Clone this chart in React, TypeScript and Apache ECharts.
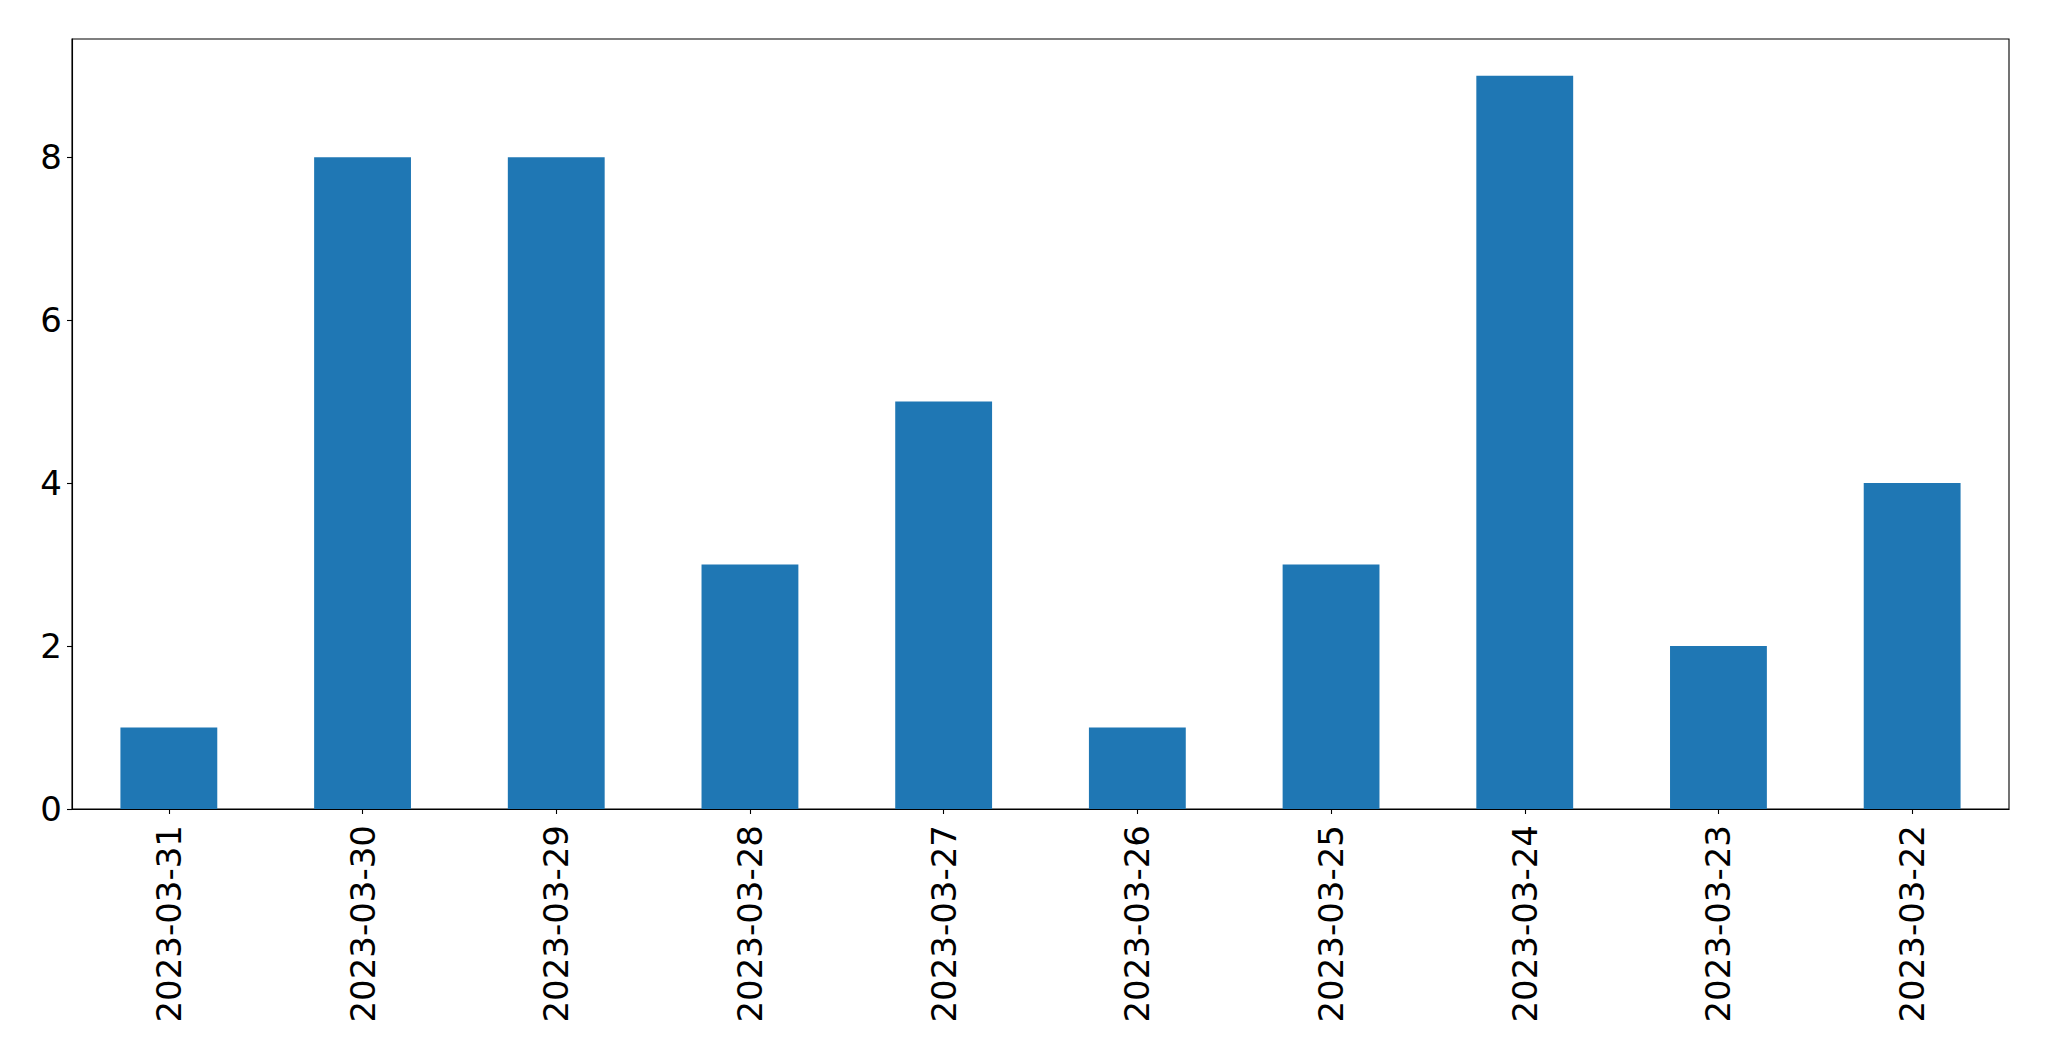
import React, { useEffect, useRef } from "react";
import * as echarts from "echarts";

const categories = [
  "2023-03-31",
  "2023-03-30",
  "2023-03-29",
  "2023-03-28",
  "2023-03-27",
  "2023-03-26",
  "2023-03-25",
  "2023-03-24",
  "2023-03-23",
  "2023-03-22",
];
const values = [1, 8, 8, 3, 5, 1, 3, 9, 2, 4];
const yTicks = [0, 2, 4, 6, 8];

export default function App() {
  const ref = useRef<HTMLDivElement>(null);
  useEffect(() => {
    if (!ref.current) return;
    const chart = echarts.init(ref.current, null, { renderer: "svg" });
    const font = "DejaVu Sans";
    chart.setOption({
      animation: false,
      backgroundColor: "#ffffff",
      grid: {
        left: 72,
        top: 39,
        width: 1937,
        height: 770,
        show: true,
        borderColor: "#000000",
        borderWidth: 1.1,
        backgroundColor: "transparent",
      },
      xAxis: {
        type: "category",
        data: categories,
        boundaryGap: true,
        axisLine: { show: true, lineStyle: { color: "#000000", width: 1.1 } },
        axisTick: {
          show: true,
          alignWithLabel: true,
          length: 5,
          lineStyle: { color: "#000000", width: 1.1 },
        },
        axisLabel: {
          rotate: 90,
          margin: 16,
          color: "#000000",
          fontFamily: font,
          fontSize: 34,
          interval: 0,
        },
        splitLine: { show: false },
      },
      yAxis: {
        type: "value",
        min: 0,
        max: 9.45,
        interval: 2,
        axisLine: { show: true, lineStyle: { color: "#000000", width: 1.1 } },
        axisTick: {
          show: true,
          length: 5,
          customValues: yTicks,
          lineStyle: { color: "#000000", width: 1.1 },
        },
        axisLabel: {
          margin: 10,
          color: "#000000",
          fontFamily: font,
          fontSize: 34,
          customValues: yTicks,
        },
        splitLine: { show: false },
      },
      series: [
        {
          type: "bar",
          data: values,
          barWidth: "50%",
          itemStyle: { color: "#1f77b4" },
        },
      ],
    });
    return () => chart.dispose();
  }, []);
  return (
    <div
      ref={ref}
      style={{ position: "fixed", left: 0, top: 0, width: 2049, height: 1061 }}
    />
  );
}
